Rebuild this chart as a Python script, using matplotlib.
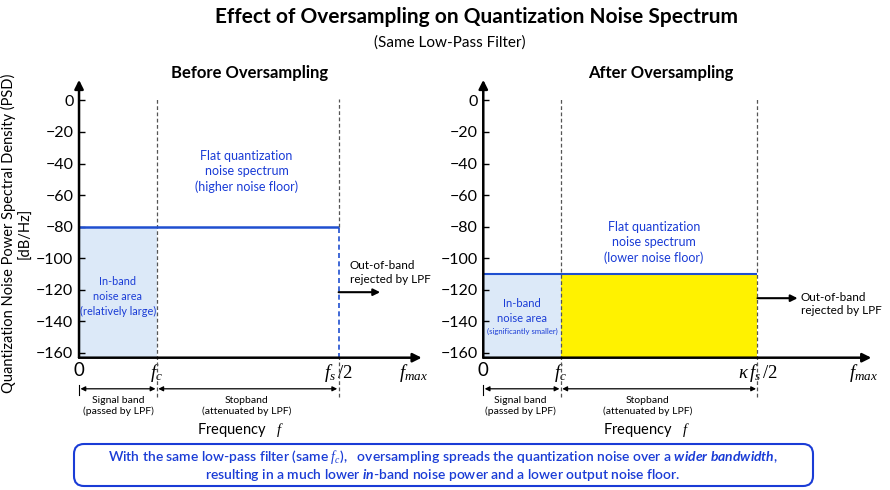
import matplotlib.pyplot as plt
from matplotlib.patches import FancyBboxPatch

plt.rcParams['font.family'] = ['Lato', 'DejaVu Sans']
plt.rcParams['mathtext.fontset'] = 'custom'
plt.rcParams['mathtext.it'] = 'Liberation Serif:italic'
plt.rcParams['mathtext.rm'] = 'Liberation Serif'
plt.rcParams['mathtext.sf'] = 'Lato:bold:italic'

# data
y_ticks = [0, -20, -40, -60, -80, -100, -120, -140, -160]
f_c = 3.0
fs_half_before = 10.0
fs_half_after = 10.6
x_end_before = 13.2
x_end_after = 15.0
noise_before = -80
noise_after = -110
x_tick_labels_before = ['0', '$f_c$', r'$f_s\,/2$', '$f_{max}$']
x_tick_labels_after = ['0', '$f_c$', r'$\kappa\, f_s\,/2$', '$f_{max}$']

BLUE = '#1f4fd0'
TXT_BLUE = '#1a3cd6'
LIGHT = '#dce9f8'
YELLOW = '#fff200'
GRAY = '#555555'
Y0, Y1 = -163, 13
YLOW = -188

fig = plt.figure(figsize=(8.9, 4.9), dpi=100)
ax1 = fig.add_axes([0.0888, 0.270, 0.385, 0.567])
ax2 = fig.add_axes([0.543, 0.270, 0.436, 0.567])


def base_axes(ax, xend, fs_half, labels):
    ax.set_xlim(0, xend)
    ax.set_ylim(Y0, Y1)
    for s in ax.spines.values():
        s.set_visible(False)
    ax.set_yticks(y_ticks)
    ax.set_yticklabels([str(v).replace('-', '\u2212') for v in y_ticks], fontsize=11.5)
    ax.tick_params(axis='y', direction='in', length=4, width=1, pad=4)
    ax.set_xticks([0, f_c, fs_half, xend - 0.3])
    ax.set_xticklabels(labels, fontsize=13.5)
    ax.tick_params(axis='x', length=0, pad=3)
    # axis arrows
    ax.annotate('', xy=(0, Y1), xytext=(0, Y0),
                arrowprops=dict(arrowstyle='-|>', lw=1.8, color='k', mutation_scale=13,
                                shrinkA=0, shrinkB=0), annotation_clip=False, zorder=5)
    ax.annotate('', xy=(xend, Y0), xytext=(0, Y0),
                arrowprops=dict(arrowstyle='-|>', lw=1.8, color='k', mutation_scale=13,
                                shrinkA=0, shrinkB=0), annotation_clip=False, zorder=5)
    # band markers below axis
    ax.plot([0, 0], [-180, -186.5], color='k', lw=0.8, clip_on=False)
    for a, b in [(0, f_c), (f_c, fs_half)]:
        ax.annotate('', xy=(b, -182.7), xytext=(a, -182.7),
                    arrowprops=dict(arrowstyle='<|-|>', lw=0.9, color='k', mutation_scale=7,
                                    shrinkA=1, shrinkB=1), annotation_clip=False)
    ax.vlines(f_c, YLOW, 1, colors=GRAY, linestyles=(0, (3, 2)), lw=0.9, clip_on=False)


# ---- before oversampling
base_axes(ax1, x_end_before, fs_half_before, x_tick_labels_before)
ax1.fill_between([0, f_c], Y0, noise_before, color=LIGHT, lw=0)
ax1.hlines(noise_before, 0, fs_half_before, colors=BLUE, lw=1.8)
ax1.vlines(fs_half_before, noise_before, 1, colors=GRAY, linestyles=(0, (3, 2)), lw=0.9)
ax1.vlines(fs_half_before, YLOW, Y0, colors=GRAY, linestyles=(0, (3, 2)), lw=0.9, clip_on=False)
ax1.vlines(fs_half_before, Y0, noise_before, colors=BLUE, linestyles=(0, (3, 2)), lw=1.2)
ax1.annotate('', xy=(11.6, -121.5), xytext=(fs_half_before, -121.5),
             arrowprops=dict(arrowstyle='-|>', lw=1.5, color='k', mutation_scale=10,
                             shrinkA=0, shrinkB=0), annotation_clip=False)
ax1.text(10.42, -109, 'Out-of-band\nrejected by LPF', fontsize=8.5, ha='left', va='center',
         linespacing=1.25)
ax1.text(6.45, -45, 'Flat quantization\nnoise spectrum\n(higher noise floor)', color=TXT_BLUE,
         fontsize=9, ha='center', va='center', linespacing=1.3)
ax1.text(1.5, -124, 'In-band\nnoise area\n(relatively large)', color=TXT_BLUE,
         fontsize=7.8, ha='center', va='center', linespacing=1.45)
ax1.text(1.5, -187, 'Signal band\n(passed by LPF)', fontsize=7.5, ha='center', va='top',
         linespacing=1.3)
ax1.text(6.45, -187, 'Stopband\n(attenuated by LPF)', fontsize=7.5, ha='center', va='top',
         linespacing=1.3)
ax1.text(6.23, -209, 'Frequency   $f$', fontsize=10.5, ha='center', va='center')

# ---- after oversampling
base_axes(ax2, x_end_after, fs_half_after, x_tick_labels_after)
ax2.fill_between([0, f_c], Y0, noise_after, color=LIGHT, lw=0)
ax2.fill_between([f_c, fs_half_after], Y0, noise_after, color=YELLOW, lw=0)
ax2.hlines(noise_after, 0, fs_half_after, colors=BLUE, lw=1.5)
ax2.vlines(fs_half_after, YLOW, 1, colors=GRAY, linestyles=(0, (3, 2)), lw=0.9, clip_on=False)
ax2.annotate('', xy=(12.15, -125.3), xytext=(fs_half_after, -125.3),
             arrowprops=dict(arrowstyle='-|>', lw=1.5, color='k', mutation_scale=10,
                             shrinkA=0, shrinkB=0), annotation_clip=False)
ax2.text(12.27, -129, 'Out-of-band\nrejected by LPF', fontsize=8.5, ha='left', va='center',
         linespacing=1.25)
ax2.text(6.6, -90, 'Flat quantization\nnoise spectrum\n(lower noise floor)', color=TXT_BLUE,
         fontsize=9, ha='center', va='center', linespacing=1.3)
ax2.text(1.5, -133.4, 'In-band\nnoise area', color=TXT_BLUE,
         fontsize=8, ha='center', va='center', linespacing=1.35)
ax2.text(1.5, -146.5, '(significantly smaller)', color=TXT_BLUE,
         fontsize=5.6, ha='center', va='center')
ax2.text(1.42, -187, 'Signal band\n(passed by LPF)', fontsize=7.5, ha='center', va='top',
         linespacing=1.3)
ax2.text(6.35, -187, 'Stopband\n(attenuated by LPF)', fontsize=7.5, ha='center', va='top',
         linespacing=1.3)
ax2.text(6.3, -209, 'Frequency   $f$', fontsize=10.5, ha='center', va='center')

# ---- titles
fig.text(477 / 890, 1 - 17 / 490, 'Effect of Oversampling on Quantization Noise Spectrum',
         fontsize=15, fontweight='bold', ha='center', va='center')
fig.text(450 / 890, 1 - 43 / 490, '(Same Low-Pass Filter)', fontsize=11,
         ha='center', va='center')
fig.text(250 / 890, 1 - 73 / 490, 'Before Oversampling', fontsize=12, fontweight='bold',
         ha='center', va='center')
fig.text(661 / 890, 1 - 73 / 490, 'After Oversampling', fontsize=12, fontweight='bold',
         ha='center', va='center')
fig.text(17 / 890, 0.524, 'Quantization Noise Power Spectral Density (PSD)\n[dB/Hz]',
         rotation=90, fontsize=10.5, ha='center', va='center', linespacing=1.25)

# ---- caption box
box = FancyBboxPatch((0.74, 0.04), 7.39, 0.42, boxstyle='round,pad=0,rounding_size=0.1',
                     transform=fig.dpi_scale_trans, fc='white', ec=TXT_BLUE, lw=1.5)
fig.patches.append(box)
fig.text(0.498, 0.245 / 4.9,
         r'With the same low-pass filter (same $f_c$),   oversampling spreads the quantization '
         r'noise over a $\mathsf{wider\ bandwidth}$,' '\n'
         r'resulting in a much lower $\mathsf{in}$-band noise power and a lower output noise floor.',
         fontsize=10, fontweight='semibold', color=TXT_BLUE, ha='center', va='center',
         linespacing=1.1)

fig.savefig('out.png', dpi=100)
